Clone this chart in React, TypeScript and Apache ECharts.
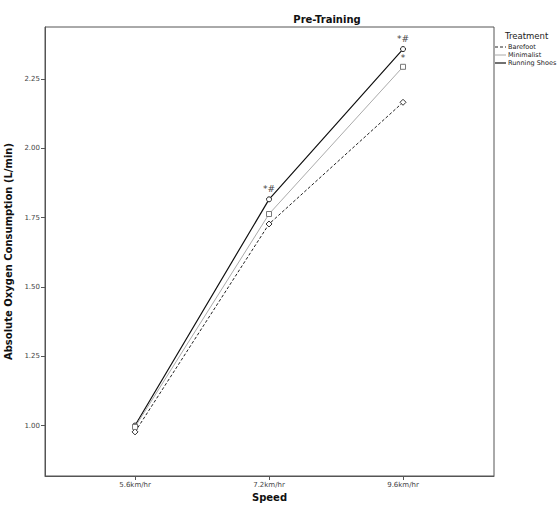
import React, { useEffect, useRef } from "react";
import * as echarts from "echarts";

const speeds = ["5.6km/hr", "7.2km/hr", "9.6km/hr"];
const barefoot = [0.977, 1.727, 2.166];
const minimalist = [0.995, 1.763, 2.294];
const runningShoes = [1.0, 1.816, 2.358];
const minimalistNotes = ["", "", "*"];
const runningNotes = ["", "*#", "*#"];
const yTicks = [1.0, 1.25, 1.5, 1.75, 2.0, 2.25];

const FONT = "'DejaVu Sans', sans-serif";

export default function App() {
  const ref = useRef<HTMLDivElement>(null);
  useEffect(() => {
    const chart = echarts.init(ref.current!, null, { renderer: "svg" });
    const mk = (vals: number[], notes: string[] | null, dist: number) =>
      vals.map((v, i) => ({
        value: [i + 1, v],
        label: notes && notes[i]
          ? { show: true, formatter: notes[i], position: "top", distance: dist, fontSize: 9, color: "#444", fontFamily: FONT }
          : { show: false },
      }));
    chart.setOption({
      animation: false,
      title: {
        text: "Pre-Training",
        left: 322,
        top: 9,
        textAlign: "center",
        textStyle: { fontSize: 10, fontWeight: "bold", color: "#111", fontFamily: FONT },
      },
      grid: {
        left: 45, top: 27, right: 66, bottom: 29,
        outerBoundsMode: "none", containLabel: false,
        show: true, borderColor: "#555", borderWidth: 1,
      },
      xAxis: {
        type: "value",
        min: 0.328,
        max: 3.679,
        interval: 1,
        name: "Speed",
        nameLocation: "middle",
        nameGap: 12,
        nameTextStyle: { fontSize: 10, fontWeight: "bold", color: "#111", fontFamily: FONT },
        axisLine: { show: true, onZero: false, lineStyle: { color: "#555" } },
        axisTick: { show: true, length: 4, lineStyle: { color: "#555" }, customValues: [1, 2, 3] },
        axisLabel: {
          fontSize: 7,
          color: "#444",
          fontFamily: FONT,
          margin: 5,
          customValues: [1, 2, 3],
          formatter: (v: number) => speeds[Math.round(v) - 1] ?? "",
        },
        splitLine: { show: false },
      },
      yAxis: {
        type: "value",
        min: 0.818,
        max: 2.4376,
        name: "Absolute Oxygen Consumption (L/min)",
        nameLocation: "middle",
        nameGap: 23,
        nameTextStyle: { fontSize: 10, fontWeight: "bold", color: "#111", fontFamily: FONT },
        axisLine: { show: true, lineStyle: { color: "#555" } },
        axisTick: { show: true, length: 4, lineStyle: { color: "#555" }, customValues: yTicks },
        axisLabel: {
          fontSize: 7,
          color: "#444",
          fontFamily: FONT,
          margin: 5,
          customValues: yTicks,
          formatter: (v: number) => v.toFixed(2),
        },
        splitLine: { show: false },
      },
      series: [
        {
          name: "Barefoot",
          type: "line",
          data: mk(barefoot, null, 3),
          symbol: "diamond",
          symbolSize: 6,
          lineStyle: { color: "#222", width: 1, type: [3, 2] },
          itemStyle: { color: "#fff", borderColor: "#333", borderWidth: 1 },
        },
        {
          name: "Minimalist",
          type: "line",
          z: 4,
          data: mk(minimalist, minimalistNotes, 1),
          symbol: "rect",
          symbolSize: 5,
          labelLayout: { hideOverlap: false },
          lineStyle: { color: "#aaa", width: 1 },
          itemStyle: { color: "#fff", borderColor: "#777", borderWidth: 1 },
        },
        {
          name: "Running Shoes",
          type: "line",
          z: 2,
          data: mk(runningShoes, runningNotes, 3),
          symbol: "circle",
          symbolSize: 5,
          labelLayout: { hideOverlap: false },
          lineStyle: { color: "#111", width: 1.2 },
          itemStyle: { color: "#fff", borderColor: "#222", borderWidth: 1 },
        },
      ],
      graphic: [
        { type: "text", left: 505, top: 31, style: { text: "Treatment", fontSize: 8.5, fill: "#222", fontFamily: FONT } },
        { type: "line", shape: { x1: 495, y1: 47, x2: 506, y2: 47 }, style: { stroke: "#222", lineWidth: 1, lineDash: [3, 2] } },
        { type: "text", left: 508, top: 43.5, style: { text: "Barefoot", fontSize: 6.5, fill: "#222", fontFamily: FONT } },
        { type: "line", shape: { x1: 495, y1: 55, x2: 506, y2: 55 }, style: { stroke: "#aaa", lineWidth: 1 } },
        { type: "text", left: 508, top: 51.5, style: { text: "Minimalist", fontSize: 6.5, fill: "#222", fontFamily: FONT } },
        { type: "line", shape: { x1: 495, y1: 63, x2: 506, y2: 63 }, style: { stroke: "#111", lineWidth: 1.2 } },
        { type: "text", left: 508, top: 59.5, style: { text: "Running Shoes", fontSize: 6.5, fill: "#222", fontFamily: FONT } },
      ],
    });
    return () => chart.dispose();
  }, []);
  return <div ref={ref} style={{ position: "fixed", left: 0, top: 0, width: 560, height: 505, background: "#fff" }} />;
}
